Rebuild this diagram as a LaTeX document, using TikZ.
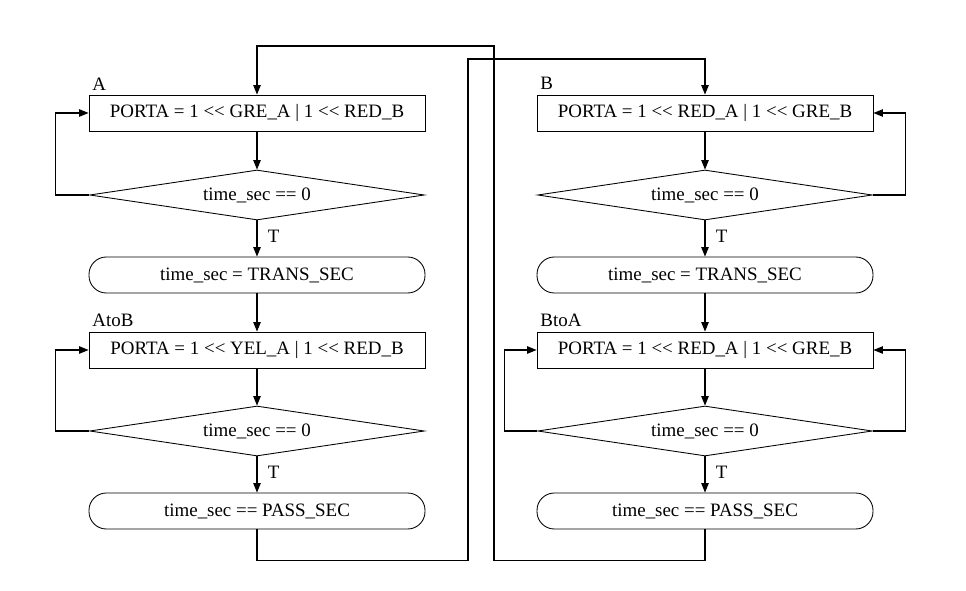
\documentclass[tikz,border=0pt]{standalone}
\usepackage{fontspec}
\setmainfont{Liberation Serif}
\usepackage{tikz}
\usetikzlibrary{arrows.meta, shapes, positioning, calc}
\def\shl{<\kern0pt<}

\begin{document}
\fontsize{14.2pt}{17pt}\selectfont
\begin{tikzpicture}
	[
	x = 0.75pt, y = -0.75pt,
	line width = 0.8pt,
	box/.style = {rectangle, draw, line width = 0.65pt, minimum width = 252pt, minimum height = 27pt, inner sep = 0pt},
	cond/.style = {diamond, draw, line width = 0.65pt, shape aspect = 6.7, minimum width = 251pt, minimum height = 37.5pt, inner sep = 0pt},
	term/.style = {rectangle, rounded corners = 13pt, draw, line width = 0.65pt, minimum width = 252pt, minimum height = 27pt, inner sep = 0pt},
	tag/.style = {anchor = south west, inner sep = 1pt, xshift = 1.5pt, yshift = 2pt},
	tip/.style = {
		->,
		>={Triangle[width=5.5pt,length=7pt]}
	}
	]
	\useasboundingbox (0,0) rectangle (966,591);
	
	% state A and AtoB
	\node[box] (boxA) at (257,113) {PORTA = 1 \shl{} GRE\_A | 1 \shl{} RED\_B};
	\node[tag] at (boxA.north west) {A};
	\node[cond] (condA) at (257,195) {time\_sec == 0};
	\node[term] (termA) at (257,275) {time\_sec = TRANS\_SEC};
	\node[box] (boxAB) at (257,350) {PORTA = 1 \shl{} YEL\_A | 1 \shl{} RED\_B};
	\node[tag] at (boxAB.north west) {AtoB};
	\node[cond] (condAB) at (257,431) {time\_sec == 0};
	\node[term] (termAB) at (257,511) {time\_sec == PASS\_SEC};
	
	% state B and BtoA
	\node[box] (boxB) at (705,113) {PORTA = 1 \shl{} RED\_A | 1 \shl{} GRE\_B};
	\node[tag] at (boxB.north west) {B};
	\node[cond] (condB) at (705,195) {time\_sec == 0};
	\node[term] (termB) at (705,275) {time\_sec = TRANS\_SEC};
	\node[box] (boxBA) at (705,350) {PORTA = 1 \shl{} RED\_A | 1 \shl{} GRE\_B};
	\node[tag] at (boxBA.north west) {BtoA};
	\node[cond] (condBA) at (705,431) {time\_sec == 0};
	\node[term] (termBA) at (705,511) {time\_sec == PASS\_SEC};
	
	\draw[tip] (boxA) -- (condA);
	\draw[tip] (condA) -- node[pos=.45, right=3pt] {T} (termA);
	\draw[tip] (termA) -- (boxAB);
	\draw[tip] (boxAB) -- (condAB);
	\draw[tip] (condAB) -- node[pos=.45, right=3pt] {T} (termAB);
	\draw[tip] (condA.west) -- ++(-34,0) |- (boxA.west);
	\draw[tip] (condAB.west) -- ++(-34,0) |- (boxAB.west);
	
	\draw[tip] (boxB) -- (condB);
	\draw[tip] (condB) -- node[pos=.45, right=3pt] {T} (termB);
	\draw[tip] (termB) -- (boxBA);
	\draw[tip] (boxBA) -- (condBA);
	\draw[tip] (condBA) -- node[pos=.45, right=3pt] {T} (termBA);
	\draw[tip] (condB.east) -- ++(33,0) |- (boxB.east);
	\draw[tip] (condBA.east) -- ++(33,0) |- (boxBA.east);
	\draw[tip] (condBA.west) -- ++(-33,0) |- (boxBA.west);
	
	\draw[tip] (termAB.south) -- ++(0,31) -| (468,59) -| (boxB.north);
	\draw[tip] (termBA.south) -- ++(0,31) -| (494,46) -| (boxA.north);
\end{tikzpicture}
\end{document}
